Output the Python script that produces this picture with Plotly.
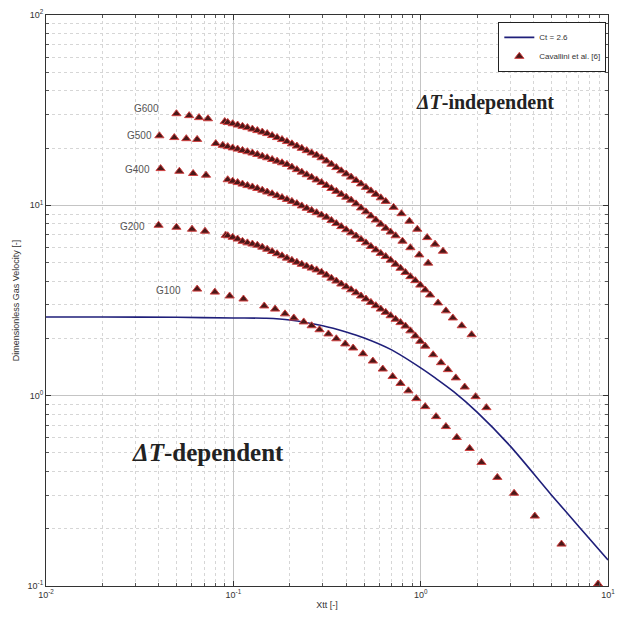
import plotly.graph_objects as go

# Cavallini et al. condensation data: dimensionless gas velocity JG vs Xtt
g600_x = [0.0497, 0.0581, 0.0656, 0.0732,
          0.0900, 0.0933, 0.0992, 0.1054, 0.1119, 0.1189, 0.1264, 0.1343, 0.1427, 0.1516,
          0.1611, 0.1712, 0.1819, 0.1933, 0.2054, 0.2183, 0.2319, 0.2464, 0.2618, 0.2782,
          0.2956, 0.3141, 0.3338, 0.3547, 0.3769, 0.4005, 0.4255, 0.4521, 0.4804, 0.5105,
          0.5424, 0.5764, 0.6124, 0.6507, 0.7170, 0.7900, 0.8708, 0.9596, 1.0834, 1.1937, 1.3152]
g600_y = [30.3, 29.6, 28.9, 28.5,
          27.54, 27.27, 26.84, 26.42, 26.01, 25.61, 25.15, 24.70, 24.26, 23.82,
          23.26, 22.70, 22.16, 21.63, 21.04, 20.49, 19.93, 19.38, 18.85, 18.35,
          17.78, 17.10, 16.44, 15.79, 15.18, 14.62, 14.07, 13.50, 12.96, 12.42,
          11.91, 11.42, 10.95, 10.49, 9.76, 9.04, 8.25, 7.49, 6.77, 6.25, 5.74]

g500_x = [0.0403, 0.0484, 0.0561, 0.0641,
          0.0806, 0.0878, 0.0933, 0.0992, 0.1054, 0.1119, 0.1189, 0.1264, 0.1343, 0.1427,
          0.1516, 0.1611, 0.1712, 0.1819, 0.1933, 0.2054, 0.2183, 0.2319, 0.2464, 0.2618,
          0.2782, 0.2956, 0.3141, 0.3338, 0.3547, 0.3769, 0.4005, 0.4255, 0.4521, 0.4804,
          0.5105, 0.5424, 0.5764, 0.6124, 0.6507, 0.6914, 0.7347, 0.7998, 0.8813, 0.9831, 1.0966]
g500_y = [23.2, 22.7, 22.4, 22.2,
          21.11, 20.66, 20.34, 20.03, 19.74, 19.43, 19.13, 18.83, 18.49, 18.12,
          17.78, 17.41, 17.06, 16.73, 16.40, 15.88, 15.40, 14.94, 14.48, 14.04,
          13.60, 13.17, 12.71, 12.26, 11.84, 11.42, 11.03, 10.65, 10.18, 9.69,
          9.24, 8.79, 8.37, 7.96, 7.58, 7.24, 6.92, 6.48, 5.99, 5.49, 4.97]

g400_x = [0.0409, 0.0515, 0.0610, 0.0715,
          0.0933, 0.0992, 0.1054, 0.1119, 0.1189, 0.1264, 0.1343, 0.1427, 0.1516, 0.1611,
          0.1712, 0.1819, 0.1933, 0.2054, 0.2183, 0.2319, 0.2464, 0.2618, 0.2782, 0.2956,
          0.3141, 0.3338, 0.3547, 0.3769, 0.4005, 0.4255, 0.4521, 0.4804, 0.5105, 0.5424,
          0.5764, 0.6124, 0.6507, 0.6914, 0.7347, 0.7806, 0.8294, 0.8813, 0.9365, 0.9951,
          1.0573, 1.1234, 1.2382, 1.3640, 1.4852, 1.6569, 1.8707]
g400_y = [15.6, 15.1, 14.7, 14.4,
          13.63, 13.39, 13.17, 12.93, 12.70, 12.49, 12.26, 12.01, 11.75, 11.50,
          11.24, 10.99, 10.74, 10.49, 10.21, 9.93, 9.65, 9.40, 9.15, 8.90,
          8.66, 8.33, 8.02, 7.73, 7.44, 7.17, 6.90, 6.62, 6.35, 6.08,
          5.83, 5.59, 5.38, 5.15, 4.90, 4.67, 4.44, 4.22, 4.02, 3.81,
          3.59, 3.38, 3.07, 2.79, 2.56, 2.33, 2.09]

g200_x = [0.0399, 0.0497, 0.0602, 0.0706,
          0.0911, 0.0933, 0.0992, 0.1054, 0.1119, 0.1189, 0.1264, 0.1343, 0.1427, 0.1516,
          0.1611, 0.1712, 0.1819, 0.1933, 0.2054, 0.2183, 0.2319, 0.2464, 0.2618, 0.2782,
          0.2956, 0.3141, 0.3338, 0.3547, 0.3769, 0.4005, 0.4255, 0.4521, 0.4804, 0.5105,
          0.5424, 0.5764, 0.6124, 0.6507, 0.6914, 0.7347, 0.7806, 0.8294, 0.8813, 0.9365,
          0.9951, 1.0573, 1.1651, 1.2840, 1.3977, 1.5405, 1.7182, 1.9637, 2.2442]
g200_y = [7.86, 7.67, 7.49, 7.31,
          6.96, 6.92, 6.79, 6.65, 6.47, 6.35, 6.26, 6.17, 6.03, 5.88,
          5.72, 5.57, 5.43, 5.28, 5.14, 5.02, 4.90, 4.79, 4.68, 4.58,
          4.45, 4.30, 4.14, 4.00, 3.86, 3.73, 3.60, 3.47, 3.34, 3.22,
          3.09, 2.97, 2.85, 2.74, 2.63, 2.52, 2.42, 2.32, 2.19, 2.06,
          1.93, 1.82, 1.64, 1.49, 1.37, 1.24, 1.11, 0.988, 0.865]

g100_x = [0.0641, 0.0797, 0.0956, 0.1133,
          0.1462, 0.1671, 0.1887, 0.2103, 0.2376, 0.2618, 0.2885, 0.3218, 0.3547, 0.3957,
          0.4360, 0.4921, 0.5556, 0.6276, 0.7083, 0.7806, 0.8602, 0.9480, 1.0573, 1.2082,
          1.3640, 1.5589, 1.8258, 2.112, 2.566, 3.153, 4.068, 5.645, 8.847]
g100_y = [3.63, 3.50, 3.34, 3.22,
          2.96, 2.85, 2.69, 2.56, 2.44, 2.33, 2.22, 2.11, 1.99, 1.87,
          1.78, 1.66, 1.52, 1.38, 1.26, 1.16, 1.06, 0.965, 0.876, 0.776,
          0.688, 0.603, 0.528, 0.446, 0.372, 0.307, 0.233, 0.166, 0.1024]

# Transition curve for Ct = 2.6
ct_x = [0.01, 0.02, 0.05, 0.1, 0.15, 0.2, 0.3, 0.4, 0.5, 0.7, 1.0, 1.2, 1.5, 2.0, 3.0, 5.0, 7.0, 10.0]
ct_y = [2.59, 2.59, 2.58, 2.56, 2.55, 2.50, 2.33, 2.16, 2.01, 1.74, 1.40, 1.236, 1.05, 0.82, 0.545, 0.300, 0.205, 0.137]

series = [("G600", g600_x, g600_y), ("G500", g500_x, g500_y), ("G400", g400_x, g400_y),
          ("G200", g200_x, g200_y), ("G100", g100_x, g100_y)]

x_tickvals = [0.01, 0.1, 1, 10]
x_ticktext = ["10<sup>-2</sup>", "10<sup>-1</sup>", "10<sup>0</sup>", "10<sup>1</sup>"]
y_tickvals = [0.1, 1, 10, 100]
y_ticktext = ["10<sup>-1</sup>", "10<sup>0</sup>", "10<sup>1</sup>", "10<sup>2</sup>"]

# minor gridlines at 2..9 within each decade
x_minor = [m * d for d in (0.01, 0.1, 1) for m in range(2, 10)]
y_minor = [m * d for d in (0.1, 1, 10) for m in range(2, 10)]

fig = go.Figure()

fig.add_trace(go.Scatter(
    x=ct_x, y=ct_y, mode="lines", name="Ct = 2.6",
    line=dict(color="#1f1f7a", width=1.6, shape="spline", smoothing=0.8),
))

for i, (name, xs, ys) in enumerate(series):
    fig.add_trace(go.Scatter(
        x=xs, y=ys, mode="markers", name="Cavallini et al. [6]",
        legendgroup="cav", showlegend=(i == 0),
        marker=dict(symbol="triangle-up", size=8, color="#4a1818",
                    line=dict(color="#d04040", width=1)),
    ))

# series labels placed just left of each first data point
label_pos = {"G600": (0.204, 0.836), "G500": (0.192, 0.789), "G400": (0.188, 0.730),
             "G200": (0.180, 0.630), "G100": (0.243, 0.517)}
annotations = []
for name, (px, py) in label_pos.items():
    annotations.append(dict(x=px, y=py, xref="paper", yref="paper", text=name,
                            showarrow=False, xanchor="right", yanchor="middle",
                            font=dict(family="Liberation Sans", size=10, color="#555555")))

annotations.append(dict(x=0.782, y=0.846, xref="paper", yref="paper",
                        xanchor="center", yanchor="middle",
                        text="<b><i>ΔT</i>-independent</b>", showarrow=False,
                        font=dict(family="Liberation Serif", size=20, color="#222222")))
annotations.append(dict(x=0.2875, y=0.234, xref="paper", yref="paper",
                        xanchor="center", yanchor="middle",
                        text="<b><i>ΔT</i>-dependent</b>", showarrow=False,
                        font=dict(family="Liberation Serif", size=25, color="#222222")))


def log_axis(tickvals, ticktext, minor_vals, title, standoff):
    return dict(
        type="log", showline=True, linecolor="#333333", linewidth=1, mirror="ticks",
        ticks="inside", ticklen=5, tickcolor="#333333",
        tickvals=tickvals, ticktext=ticktext,
        showgrid=True, gridcolor="#c4c4c4", gridwidth=1,
        minor=dict(tickvals=minor_vals, showgrid=True, gridcolor="#d6d6d6",
                   griddash="dot", ticks="inside", ticklen=3, tickcolor="#555555"),
        tickfont=dict(family="Liberation Sans", size=9, color="#333333"),
        zeroline=False,
        title=dict(text=title, font=dict(family="Liberation Sans", size=9, color="#333333"),
                   standoff=standoff),
    )


fig.update_layout(
    width=623, height=622,
    margin=dict(l=46, r=8, t=13, b=36),
    paper_bgcolor="white", plot_bgcolor="white",
    xaxis=dict(range=[-2, 1], **log_axis(x_tickvals, x_ticktext, x_minor, "Xtt [-]", 2)),
    yaxis=dict(range=[-1, 2], **log_axis(y_tickvals, y_ticktext, y_minor,
                                         "Dimensionless Gas Velocity [-]", 6)),
    legend=dict(x=0.997, y=0.988, xanchor="right", yanchor="top",
                bgcolor="white", bordercolor="#222222", borderwidth=1,
                font=dict(family="Liberation Sans", size=8, color="#333333"),
                itemwidth=30, tracegroupgap=0),
    annotations=annotations,
    showlegend=True,
)

fig.write_html("out.html")
